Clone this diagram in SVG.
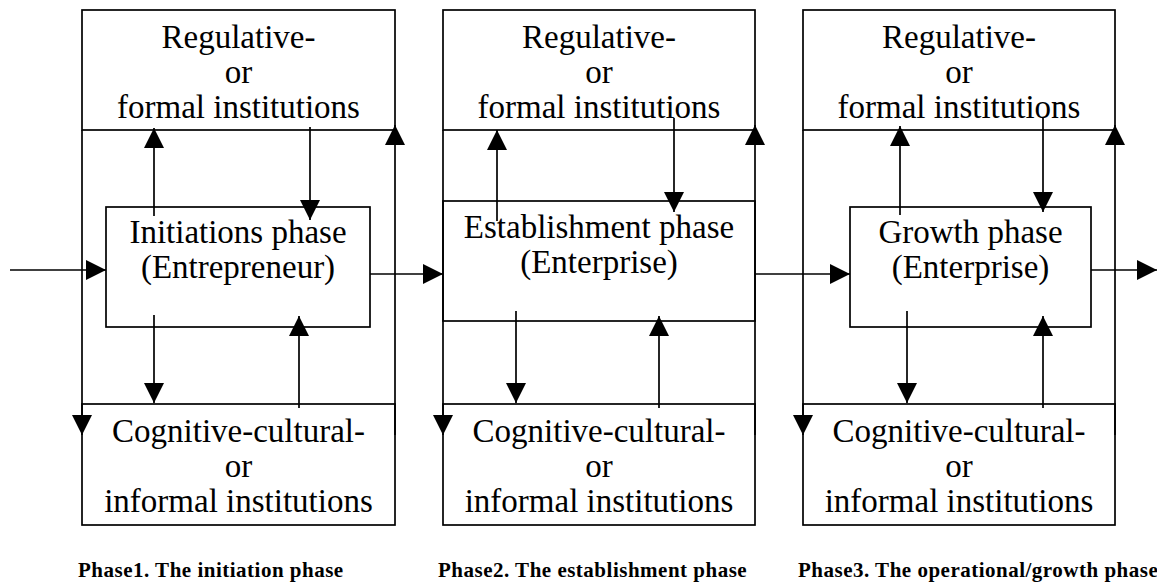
<svg xmlns="http://www.w3.org/2000/svg" width="1157" height="583" viewBox="0 0 1157 583">
<defs>
<marker id="ah" viewBox="0 0 20 20" refX="20" refY="10" markerWidth="20" markerHeight="20" markerUnits="userSpaceOnUse" orient="auto">
<path d="M0,0 L20,10 L0,20 z" fill="#000"/>
</marker>
<style>
rect.box{fill:none;stroke:#000;stroke-width:1.7}
text{font-family:"Liberation Serif","Times New Roman",serif;fill:#000}
text.lbl{font-size:33px;text-anchor:middle}
text.cap{font-size:21px;font-weight:bold;letter-spacing:0.5px}
#connectors path{fill:none;stroke:#000;stroke-width:1.7}
#connectors path.a{marker-end:url(#ah)}
</style>
</defs>
<rect width="1157" height="583" fill="#fff"/>

<!-- Panel 1 -->
<g id="p1-regulative">
<rect class="box" x="82" y="10" width="313" height="120"/>
<text class="lbl" x="238.5" y="48">Regulative-</text>
<text class="lbl" x="238.5" y="83">or</text>
<text class="lbl" x="238.5" y="118">formal institutions</text>
</g>
<g id="p1-phase">
<rect class="box" x="106" y="207" width="264" height="120"/>
<text class="lbl" x="238" y="243">Initiations phase</text>
<text class="lbl" x="238" y="278">(Entrepreneur)</text>
</g>
<g id="p1-cognitive">
<rect class="box" x="82" y="404" width="313" height="121"/>
<text class="lbl" x="238.5" y="442">Cognitive-cultural-</text>
<text class="lbl" x="238.5" y="477">or</text>
<text class="lbl" x="238.5" y="512">informal institutions</text>
</g>
<text id="p1-caption" class="cap" x="78" y="577">Phase1. The initiation phase</text>

<!-- Panel 2 -->
<g id="p2-regulative">
<rect class="box" x="443" y="10" width="312" height="120"/>
<text class="lbl" x="599" y="48">Regulative-</text>
<text class="lbl" x="599" y="83">or</text>
<text class="lbl" x="599" y="118">formal institutions</text>
</g>
<g id="p2-phase">
<rect class="box" x="443" y="201" width="312" height="120"/>
<text class="lbl" x="599" y="238">Establishment phase</text>
<text class="lbl" x="599" y="273">(Enterprise)</text>
</g>
<g id="p2-cognitive">
<rect class="box" x="443" y="404" width="312" height="121"/>
<text class="lbl" x="599" y="442">Cognitive-cultural-</text>
<text class="lbl" x="599" y="477">or</text>
<text class="lbl" x="599" y="512">informal institutions</text>
</g>
<text id="p2-caption" class="cap" x="438" y="577">Phase2. The establishment phase</text>

<!-- Panel 3 -->
<g id="p3-regulative">
<rect class="box" x="803" y="10" width="312" height="120"/>
<text class="lbl" x="959" y="48">Regulative-</text>
<text class="lbl" x="959" y="83">or</text>
<text class="lbl" x="959" y="118">formal institutions</text>
</g>
<g id="p3-phase">
<rect class="box" x="850" y="207" width="241" height="120"/>
<text class="lbl" x="970.5" y="243">Growth phase</text>
<text class="lbl" x="970.5" y="278">(Enterprise)</text>
</g>
<g id="p3-cognitive">
<rect class="box" x="803" y="404" width="312" height="121"/>
<text class="lbl" x="959" y="442">Cognitive-cultural-</text>
<text class="lbl" x="959" y="477">or</text>
<text class="lbl" x="959" y="512">informal institutions</text>
</g>
<text id="p3-caption" class="cap" x="798" y="577">Phase3. The operational/growth phase</text>

<g id="connectors">
<!-- panel 1 -->
<path class="a" d="M10,270 L106,270"/>
<path class="a" d="M82,130 L82,435"/>
<path class="a" d="M395,435 L395,125"/>
<path class="a" d="M154,216 L154,128"/>
<path class="a" d="M310,127 L310,220"/>
<path class="a" d="M154,315 L154,403"/>
<path class="a" d="M299,408 L299,316"/>
<path class="a" d="M370,274 L443,274"/>
<!-- panel 2 -->
<path class="a" d="M443,130 L443,435"/>
<path class="a" d="M755,435 L755,125"/>
<path class="a" d="M497,221 L497,130"/>
<path class="a" d="M674,118 L674,212"/>
<path class="a" d="M516,311 L516,403"/>
<path class="a" d="M659,408 L659,316"/>
<path class="a" d="M755,274 L850,274"/>
<!-- panel 3 -->
<path class="a" d="M803,130 L803,435"/>
<path class="a" d="M1115,435 L1115,125"/>
<path class="a" d="M900,215 L900,126"/>
<path class="a" d="M1043,118 L1043,212"/>
<path class="a" d="M907,311 L907,403"/>
<path class="a" d="M1043,408 L1043,316"/>
<path class="a" d="M1091,270 L1157,270"/>
</g>
</svg>
